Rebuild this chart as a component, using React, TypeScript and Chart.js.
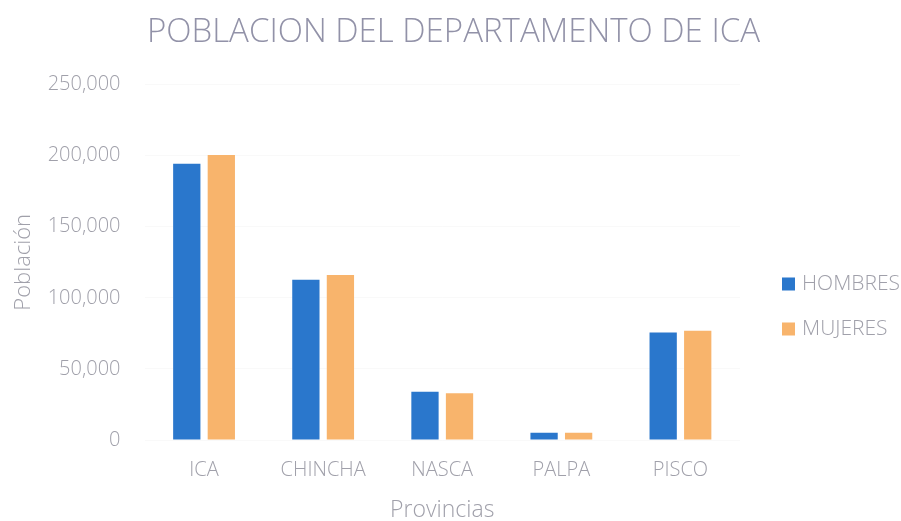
import React, { useEffect, useRef } from "react";
import { Chart, registerables } from "chart.js";

Chart.register(...registerables);

const categories = ["ICA", "CHINCHA", "NASCA", "PALPA", "PISCO"];
const hombres = [194400, 112700, 34000, 5100, 75600];
const mujeres = [200500, 116000, 32900, 5100, 76800];
const yTicks = [0, 50000, 100000, 150000, 200000, 250000];

const FONT = "'Open Sans', 'Noto Sans', sans-serif";
const TXT = "#a0a0aa";

const sideLegend = {
  id: "sideLegend",
  afterDraw(chart: any) {
    const ctx = chart.ctx;
    const x0 = chart.chartArea.right + 42;
    const ys = [284, 329];
    ctx.save();
    ctx.font = `300 21px ${FONT}`;
    ctx.textBaseline = "middle";
    ctx.textAlign = "left";
    chart.data.datasets.forEach((ds: any, i: number) => {
      const y = ys[i];
      ctx.fillStyle = ds.backgroundColor;
      ctx.fillRect(x0, y - 6.5, 13, 13);
      ctx.fillStyle = TXT;
      ctx.fillText(ds.label, x0 + 20, y);
    });
    ctx.restore();
  },
};

export default function App() {
  const ref = useRef<HTMLCanvasElement | null>(null);
  useEffect(() => {
    document.body.style.margin = "0";
    const ctx = ref.current!;
    const chart = new Chart(ctx, {
      type: "bar",
      data: {
        labels: categories,
        datasets: [
          { label: "HOMBRES", data: hombres, backgroundColor: "#2a77cc", barPercentage: 0.79, categoryPercentage: 0.58 },
          { label: "MUJERES", data: mujeres, backgroundColor: "#f8b46c", barPercentage: 0.79, categoryPercentage: 0.58 },
        ],
      },
      plugins: [sideLegend],
      options: {
        animation: false,
        responsive: false,
        layout: { padding: { left: 9, right: 3, top: 10, bottom: 0 } },
        plugins: {
          title: {
            display: true,
            text: "POBLACION DEL DEPARTAMENTO DE ICA",
            color: "#9292a8",
            font: { family: FONT, size: 33, weight: "300" },
            padding: { top: 3, bottom: 32 },
          },
          legend: { display: false },
          tooltip: { enabled: false },
        },
        scales: {
          x: {
            grid: { display: false, drawTicks: false },
            border: { display: false },
            afterFit: (s: any) => {
              s.height = 81;
            },
            ticks: { color: TXT, font: { family: FONT, size: 20, weight: "300" }, padding: 18 },
            title: {
              display: true,
              text: "Provincias",
              color: TXT,
              font: { family: FONT, size: 23, weight: "300" },
              padding: { top: 0, bottom: -3 },
            },
          },
          y: {
            min: 0,
            max: 250000,
            afterBuildTicks: (s: any) => {
              s.ticks = yTicks.map((v) => ({ value: v }));
            },
            afterFit: (s: any) => {
              s.width = 135.5;
            },
            grid: { color: "rgba(0,0,0,0.025)", drawTicks: false },
            border: { display: false },
            ticks: {
              color: TXT,
              font: { family: FONT, size: 20, weight: "300" },
              padding: 24,
              callback: (v: any) => Number(v).toLocaleString("en-US"),
            },
            title: {
              display: true,
              text: "Población",
              color: TXT,
              font: { family: FONT, size: 22, weight: "300" },
              padding: { top: 2, bottom: 0 },
            },
          },
          legendSpace: {
            type: "linear",
            position: "right",
            display: true,
            grid: { display: false, drawTicks: false },
            border: { display: false },
            ticks: { display: false },
            afterFit: (s: any) => {
              s.width = 158;
            },
          },
        },
      },
    });
    return () => chart.destroy();
  }, []);
  return (
    <div style={{ width: 901, height: 521, background: "#fff" }}>
      <canvas ref={ref} width={901} height={521} style={{ display: "block" }} />
    </div>
  );
}
